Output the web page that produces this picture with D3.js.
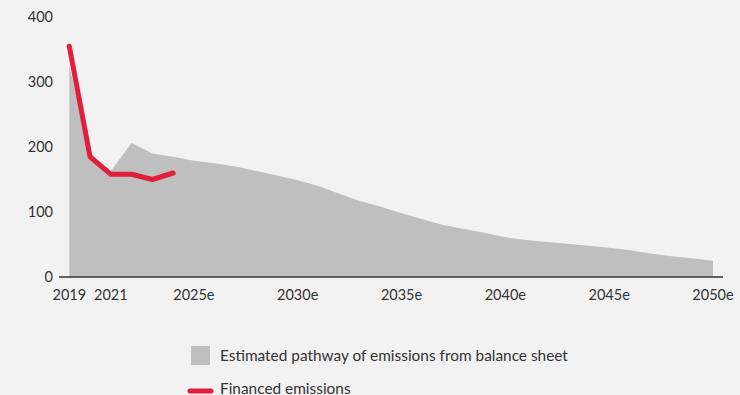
<!DOCTYPE html>
<html>
<head>
<meta charset="utf-8">
<script src="https://cdn.jsdelivr.net/npm/d3@7"></script>
<style>
  html, body { margin: 0; padding: 0; background: #f2f2f2; }
  svg { display: block; }
  text { font-family: Lato, "Noto Sans", sans-serif; fill: #333; }
</style>
</head>
<body>
<svg id="chart" width="740" height="395"></svg>
<script>
// Data
const pathwayYears = [2019,2020,2021,2022,2023,2024,2025,2026,2027,2028,2029,2030,2031,2032,2033,2034,2035,2036,2037,2038,2039,2040,2041,2042,2043,2044,2045,2046,2047,2048,2049,2050];
const pathwayValues = [325,188,163,206,190,185,179,175,170,163,156,149,140,128,117,108,98,89,80,74,68,61,57,54,51,48,45,41,36,32,29,25];
const financedYears = [2019,2020,2021,2022,2023,2024];
const financedValues = [355,185,158,158,150,160];
const xTickYears = [2019,2021,2025,2030,2035,2040,2045,2050];
const xTickLabels = ["2019","2021","2025e","2030e","2035e","2040e","2045e","2050e"];
const yTicks = [0,100,200,300,400];
const legendLabels = ["Estimated pathway of emissions from balance sheet","Financed emissions"];

const svg = d3.select("#chart");
const x = d3.scaleLinear().domain([2019, 2050]).range([69.3, 713]);
const y = d3.scaleLinear().domain([0, 400]).range([277, 17]);

const pathway = pathwayYears.map((yr, i) => ({yr, v: pathwayValues[i]}));
const financed = financedYears.map((yr, i) => ({yr, v: financedValues[i]}));

// Area
svg.append("path")
  .datum(pathway)
  .attr("fill", "#bfbfbf")
  .attr("d", d3.area().x(d => x(d.yr)).y0(y(0)).y1(d => y(d.v)));

// Baseline axis
svg.append("line")
  .attr("x1", 59).attr("x2", 723)
  .attr("y1", y(0)).attr("y2", y(0))
  .attr("stroke", "#333").attr("stroke-width", 1.5);

// Y tick labels
svg.append("g").selectAll("text").data(yTicks).join("text")
  .attr("x", 53).attr("y", d => y(d)).attr("dy", "0.35em")
  .attr("text-anchor", "end").attr("font-size", 14.5)
  .text(d => d);

// X tick labels
svg.append("g").selectAll("text").data(xTickYears).join("text")
  .attr("x", d => x(d)).attr("y", 295).attr("dy", "0.35em")
  .attr("text-anchor", "middle").attr("font-size", 14.5)
  .text((d, i) => xTickLabels[i]);

// Financed line
svg.append("path")
  .datum(financed)
  .attr("fill", "none")
  .attr("stroke", "#e01f3d")
  .attr("stroke-width", 5)
  .attr("stroke-linejoin", "round")
  .attr("stroke-linecap", "round")
  .attr("d", d3.line().x(d => x(d.yr)).y(d => y(d.v)));

// Legend
const lg = svg.append("g");
lg.append("rect").attr("x", 191).attr("y", 346).attr("width", 19).attr("height", 19).attr("fill", "#bfbfbf");
lg.append("text").attr("x", 220).attr("y", 355.5).attr("dy", "0.35em").attr("font-size", 15.4).text(legendLabels[0]);
lg.append("line").attr("x1", 190).attr("x2", 211).attr("y1", 391).attr("y2", 391)
  .attr("stroke", "#e01f3d").attr("stroke-width", 5).attr("stroke-linecap", "round");
lg.append("text").attr("x", 220).attr("y", 389).attr("dy", "0.35em").attr("font-size", 15.4).text(legendLabels[1]);
</script>
</body>
</html>
